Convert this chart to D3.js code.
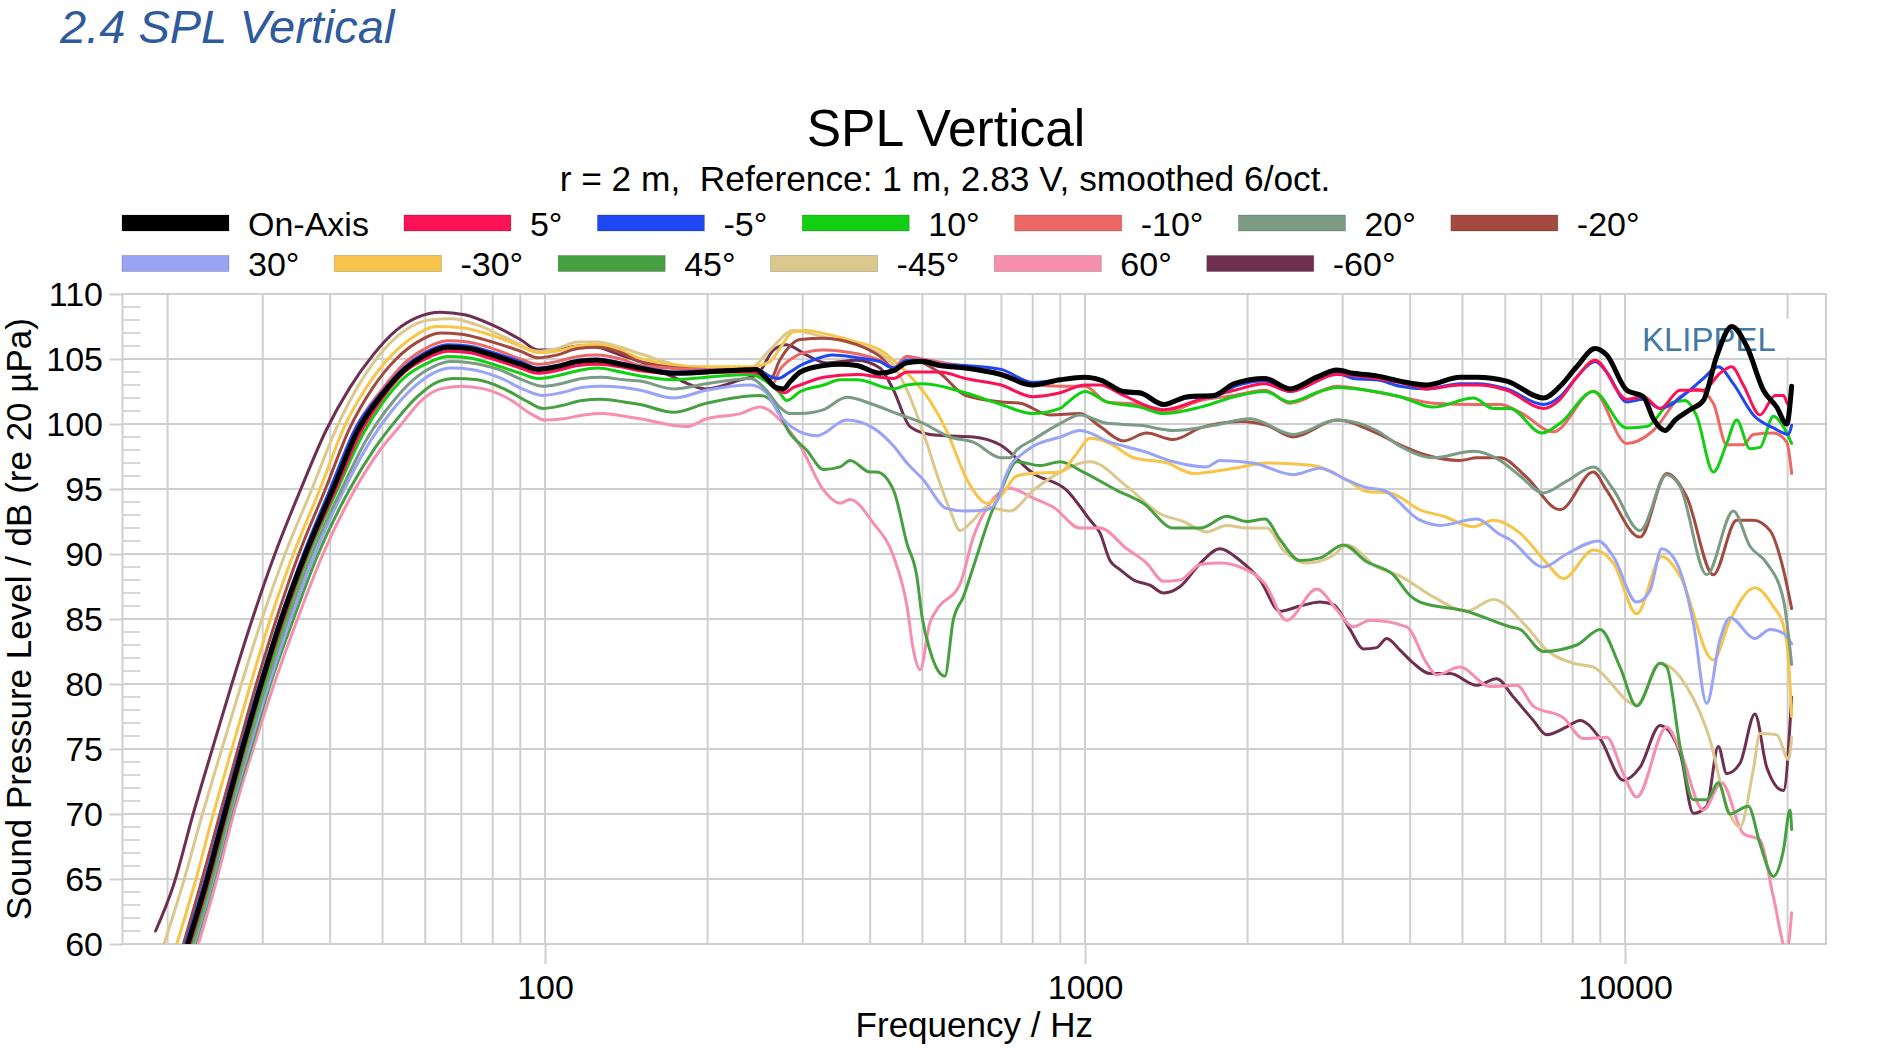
<!DOCTYPE html>
<html><head><meta charset="utf-8">
<script src="https://cdn.jsdelivr.net/npm/d3@7"></script>
<style>
html,body{margin:0;padding:0;background:#fff;}
svg{display:block;font-family:"Liberation Sans",Arial,Helvetica,sans-serif;}
</style></head><body>
<svg id="chart" width="1895" height="1054"></svg>
<script>
// ---------------- DATA (frequency Hz, SPL dB) ----------------
const seriesNames = ["On-Axis","5°","-5°","10°","-10°","20°","-20°","30°","-30°","45°","-45°","60°","-60°"];
const xTickLabels = [100, 1000, 10000];
const yTickLabels = [60, 65, 70, 75, 80, 85, 90, 95, 100, 105, 110];

const dOn = [[21.8,60],[23.5,64.5],[25.5,70],[27.5,75],[29.8,80],[32.5,85],[36,90],[40.5,95],[45,99.5],[50,102.3],[55,104.2],[60,105.3],[66,105.9],[72,105.8],[80,105.3],[90,104.6],[97,104.2],[105,104.4],[115,104.8],[125,104.9],[138,104.6],[150,104.3],[173,103.9],[199,104.0],[230,104.15],[246,104.2],[257,103.5],[268,102.8],[276,102.7],[285,103.3],[297,104.0],[328,104.5],[352,104.6],[378,104.5],[417,103.9],[442,104.1],[468,104.7],[499,104.8],[539,104.5],[600,104.3],[699,103.8],[800,103.0],[899,103.4],[1000,103.6],[1066,103.4],[1178,102.5],[1264,102.4],[1398,101.5],[1548,102.1],[1733,102.2],[1891,103.1],[2154,103.5],[2396,102.7],[2686,103.6],[2926,104.15],[3137,103.9],[3467,103.7],[3831,103.3],[4292,103.0],[4947,103.6],[5313,103.6],[6038,103.3],[7060,102.0],[7580,102.9],[8137,104.4],[8800,105.8],[9248,105.3],[10072,102.6],[10814,102.1],[11284,100.4],[11860,99.5],[12378,100.3],[13193,101.1],[13965,101.8],[14780,105.2],[15756,107.5],[16795,106.0],[18040,102.6],[19096,101.3],[19930,100.0],[20350,102.9]];
const dP5 = [[22.0,60],[23.7,64.5],[25.7,70],[27.7,75],[30,80],[32.8,85],[36.3,90],[41,95],[45.5,99.3],[50,102.0],[55,104.0],[60,105.0],[66,105.6],[72,105.5],[80,105.0],[90,104.3],[97,103.9],[105,104.1],[115,104.5],[125,104.6],[138,104.4],[150,104.1],[173,103.9],[199,104.0],[240,104.0],[257,103.6],[265,102.9],[272,102.5],[278,102.4],[288,102.8],[297,103.0],[328,103.6],[378,103.8],[417,103.6],[442,103.5],[468,104.0],[539,104.0],[600,103.5],[699,103.0],[800,102.1],[899,102.4],[1000,103.0],[1066,103.0],[1178,102.2],[1398,101.1],[1636,101.9],[1891,102.6],[2154,103.1],[2396,102.5],[2926,103.8],[3467,103.5],[3999,103.0],[4292,102.7],[4947,103.0],[5313,103.0],[6038,102.6],[7060,101.2],[7580,101.9],[8137,103.6],[8800,104.9],[10072,101.9],[10814,102.1],[11610,101.2],[12645,102.6],[13965,102.6],[14991,103.9],[15756,104.4],[16557,103.0],[17783,100.7],[18960,102.2],[19645,102.2],[20070,101.5],[20350,102.1]];
const dM5 = [[21.6,60],[23.3,64.5],[25.3,70],[27.3,75],[29.6,80],[32.3,85],[35.7,90],[40,95],[44.5,99.6],[50,102.5],[55,104.4],[60,105.5],[66,106.1],[72,106.0],[80,105.5],[90,104.8],[97,104.3],[105,104.5],[115,104.9],[125,105.0],[138,104.7],[150,104.4],[173,104.0],[199,104.1],[230,104.2],[250,104.1],[260,103.7],[270,103.5],[284,104.0],[297,104.5],[318,105.0],[340,105.3],[378,105.1],[417,104.8],[442,104.3],[468,104.9],[499,104.9],[539,104.6],[600,104.5],[699,104.2],[800,103.2],[899,103.4],[1000,103.6],[1066,103.4],[1178,102.4],[1264,102.3],[1398,101.5],[1548,102.0],[1733,102.1],[1891,102.9],[2154,103.3],[2396,102.5],[2686,103.3],[2926,103.9],[3137,103.5],[3467,103.4],[3831,102.9],[4292,102.7],[4947,103.1],[5313,103.1],[6038,102.7],[7060,101.5],[7580,102.1],[8137,103.6],[8800,104.8],[9248,104.0],[10072,101.7],[10814,101.9],[11610,101.2],[13006,102.4],[13965,103.5],[14885,104.4],[15868,103.1],[17280,100.7],[18827,99.7],[20070,99.2],[20350,99.9]];
const dP10 = [[22.1,60],[23.8,64.5],[25.8,70],[27.8,75],[30.2,80],[33,85],[36.5,90],[41.3,95],[46,99.2],[50,101.6],[55,103.6],[60,104.6],[66,105.2],[72,105.1],[80,104.6],[90,103.9],[97,103.5],[105,103.7],[115,104.1],[125,104.3],[138,104.0],[150,103.7],[173,103.4],[199,103.6],[240,103.8],[262,103.0],[272,102.4],[280,101.8],[297,102.5],[328,103.0],[352,103.4],[378,103.4],[442,102.7],[468,103.0],[502,103.1],[600,102.4],[699,101.5],[800,100.8],[899,101.2],[925,101.6],[1000,102.5],[1097,101.7],[1264,101.3],[1398,100.8],[1636,101.3],[1891,102.1],[2154,102.5],[2396,101.7],[2724,102.5],[2926,102.8],[3324,102.6],[3831,102.1],[4417,101.3],[5238,102.0],[5704,101.2],[6124,101.2],[7012,99.3],[7580,100.05],[8738,102.5],[10072,99.7],[10969,99.8],[12116,101.6],[12915,101.8],[13573,100.6],[14572,96.3],[15424,98.5],[16096,100.3],[17034,98.1],[17783,98.2],[18827,100.6],[19645,99.8],[20350,98.5]];
const dM10 = [[21.8,60],[23.4,64.5],[25.4,70],[27.4,75],[29.7,80],[32.4,85],[35.8,90],[40.2,95],[44.6,99.7],[50,102.7],[55,104.7],[60,105.8],[66,106.4],[72,106.3],[80,105.8],[90,105.0],[97,104.6],[105,104.8],[115,105.2],[125,105.3],[138,105.0],[150,104.5],[199,104.2],[240,104.2],[257,103.6],[264,103.1],[272,104.15],[288,105.1],[297,105.4],[328,105.7],[378,105.4],[417,104.9],[442,104.3],[468,105.2],[500,105.0],[600,104.4],[699,103.9],[800,103.1],[899,102.9],[1000,102.9],[1097,101.7],[1264,101.5],[1398,100.9],[1636,101.8],[1891,102.2],[2154,102.6],[2396,101.6],[2926,102.9],[3324,102.6],[3831,102.1],[4417,101.6],[5238,101.5],[5868,101.5],[6392,100.9],[7367,99.4],[8738,102.5],[10072,98.5],[11284,99.5],[12645,102.1],[13573,102.7],[14572,101.6],[15424,98.4],[16557,98.4],[17280,99.2],[18827,99.3],[19930,98.6],[20350,96.2]];
const dP20 = [[22.3,60],[24,64.5],[26,70],[28.1,75],[30.5,80],[33.4,85],[37,90],[42,95],[47,99],[52,101.6],[57,103.4],[62,104.4],[67,104.8],[73,104.7],[82,104.2],[92,103.3],[99,102.9],[107,103.1],[117,103.5],[127,103.6],[140,103.4],[150,103.3],[173,102.7],[199,103.1],[240,103.5],[257,102.6],[272,101.3],[284,100.8],[297,100.8],[328,101.1],[362,102.05],[405,101.5],[442,100.9],[502,100.05],[562,99.0],[621,98.6],[699,97.4],[726,97.4],[747,98.0],[802,98.8],[900,100.05],[979,100.7],[1097,100.05],[1264,99.9],[1458,99.5],[1733,99.9],[2021,100.4],[2431,99.2],[2926,100.3],[3467,99.5],[3831,98.3],[4417,97.4],[5238,97.9],[5868,97.2],[6392,96.0],[7060,94.7],[7800,95.6],[8738,96.7],[9500,95.0],[10662,91.8],[11945,96.1],[12645,95.2],[14165,88.4],[15868,93.3],[17034,90.6],[18296,89.3],[19645,86.5],[20350,81.5]];
const dM20 = [[21.4,60],[23,64.5],[25,70],[27,75],[29.2,80],[31.8,85],[35,90],[39.2,95],[43.5,99.7],[48,102.8],[53,105.0],[58,106.3],[64,107.0],[70,106.9],[80,106.3],[90,105.6],[97,105.1],[105,105.3],[115,105.8],[125,105.9],[138,105.5],[150,104.8],[199,104.2],[240,104.2],[261,103.4],[272,104.9],[297,106.5],[328,106.6],[378,106.1],[417,105.2],[442,104.3],[468,105.2],[502,104.7],[539,103.9],[600,102.2],[699,101.7],[758,101.6],[861,100.7],[979,100.8],[1066,99.8],[1178,98.7],[1300,99.3],[1458,98.8],[1636,99.7],[1936,100.2],[2170,99.9],[2431,99.0],[2926,100.3],[3467,99.3],[3831,98.4],[4292,97.6],[4947,97.2],[5313,97.4],[5868,97.4],[6574,95.9],[7580,93.4],[8738,96.3],[9248,94.9],[10662,91.3],[11945,96.2],[13006,94.4],[14572,88.4],[16096,92.6],[17280,92.6],[18560,91.8],[19645,88.8],[20350,85.8]];
const dP30 = [[22.4,60],[24.1,64.5],[26.1,70],[28.3,75],[30.8,80],[33.8,85],[37.5,90],[42.5,95],[47.5,98.7],[52,101],[57,102.8],[62,103.9],[67,104.3],[73,104.2],[82,103.6],[92,102.6],[99,102.2],[107,102.4],[117,102.8],[127,102.9],[140,102.8],[150,102.6],[173,102.0],[199,102.6],[240,103.0],[257,102.4],[272,100.7],[288,99.7],[319,99.1],[362,100.3],[405,99.7],[442,98.3],[468,97.0],[502,95.7],[554,93.5],[600,93.3],[658,93.4],[690,94.2],[710,95.8],[730,96.9],[760,97.6],[802,98.3],[900,99.0],[979,99.5],[1112,98.6],[1282,97.9],[1458,97.1],[1680,96.7],[1778,97.2],[2050,97.0],[2431,96.1],[2724,96.6],[3052,95.7],[3324,95.1],[3568,94.9],[4172,92.6],[4545,92.2],[5313,92.7],[5868,91.5],[6124,91.1],[7060,89.0],[7799,90.0],[8926,91.0],[9515,89.8],[10511,86.3],[11125,87.2],[11693,90.4],[12467,89.3],[13382,84.7],[14165,78.5],[14991,83.4],[15644,85.1],[17400,83.5],[18560,84.2],[19645,83.9],[20350,83.1]];
const dM30 = [[20.8,60],[22.4,64.5],[24.3,70],[26.3,75],[28.5,80],[31,85],[34.2,90],[38.3,95],[42.5,99.8],[47,103],[52,105.3],[57,106.7],[63,107.5],[70,107.4],[80,106.8],[90,106.0],[97,105.5],[105,105.6],[115,106.0],[125,106.1],[138,105.7],[150,105.05],[199,104.4],[240,104.4],[261,104.8],[272,105.8],[288,107.1],[305,107.2],[328,106.97],[378,106.3],[417,105.7],[442,104.9],[481,103.4],[516,101.8],[554,99.5],[600,96.0],[621,94.9],[658,93.9],[699,94.5],[747,96.0],[800,96.2],[900,96.3],[960,97.6],[1022,98.9],[1112,98.5],[1230,97.4],[1419,97.0],[1587,96.2],[1891,96.6],[2170,97.0],[2648,96.8],[3052,95.7],[3324,94.8],[3671,94.7],[4172,93.4],[4610,92.9],[5238,92.1],[5704,92.6],[6392,91.6],[7161,89.3],[7688,88.1],[8738,90.3],[9515,89.3],[10511,85.4],[11693,89.8],[12645,88.3],[14572,81.85],[15644,84.9],[17400,87.4],[18827,85.95],[19645,84.5],[20070,82.0],[20350,77.5]];
const dP45 = [[22.5,60],[24.2,64.5],[26.2,70],[28.5,75],[31,80],[34.2,85],[38,90],[43.5,95],[48.5,98.2],[53,100.3],[58,102.1],[63,103.2],[68,103.5],[75,103.4],[84,102.7],[93,101.7],[99,101.2],[107,101.4],[117,101.8],[127,101.9],[140,101.7],[150,101.5],[173,100.9],[199,101.6],[250,102.2],[265,101.6],[284,99.3],[305,98.0],[328,96.5],[352,96.7],[367,97.2],[400,96.3],[411,96.3],[442,94.9],[468,90.8],[488,88.3],[499,85.2],[516,82.6],[539,80.8],[550,80.6],[570,84.9],[595,86.7],[621,89.0],[667,92.9],[699,94.9],[747,97.1],[825,96.8],[900,97.1],[993,96.3],[1145,94.9],[1282,93.9],[1458,92.0],[1636,92.0],[1829,92.9],[1993,92.5],[2154,92.7],[2297,91.1],[2504,89.5],[2724,89.7],[3009,90.7],[3324,89.4],[3724,88.4],[3999,86.8],[4172,86.3],[5090,85.6],[6124,84.4],[6392,84.2],[7060,82.5],[8137,83.0],[8990,84.2],[9789,81.3],[10511,78.3],[11610,81.6],[11945,81.3],[12645,75.2],[13382,71.1],[14165,71.1],[14885,72.4],[15644,70.0],[16914,70.6],[17783,67.7],[18827,65.2],[19645,67.2],[20210,70.3],[20350,68.8]];
const dM45 = [[19.7,60],[21.3,64.5],[23.2,70],[25.2,75],[27.4,80],[29.9,85],[33,90],[37,95],[41.2,99.8],[45.5,103.2],[50,105.6],[55,107.2],[61,108.0],[67,108.1],[75,107.6],[85,106.6],[97,105.6],[105,105.8],[115,106.3],[125,106.3],[138,105.9],[150,105.4],[199,104.2],[240,104.3],[261,105.7],[288,107.2],[328,106.7],[378,106.1],[417,105.4],[442,104.5],[468,102.6],[502,99.3],[539,95.4],[562,93.4],[587,91.8],[621,92.6],[658,93.6],[699,93.4],[726,93.3],[802,94.9],[900,96.3],[1022,97.1],[1195,95.2],[1377,93.1],[1521,92.5],[1680,91.7],[1829,92.2],[1993,92.0],[2170,92.0],[2330,90.3],[2574,89.3],[2884,89.9],[3052,90.7],[3467,89.0],[3831,88.3],[4417,86.7],[5090,85.6],[5704,86.5],[6574,84.4],[7161,82.6],[8024,81.6],[8738,81.3],[10511,78.4],[11610,81.6],[13006,79.8],[14366,75.7],[15424,70.6],[16326,69.0],[17280,73.4],[17783,76.2],[19096,76.1],[20070,74.2],[20350,75.9]];
const dP60 = [[22.8,60],[24.5,64.5],[26.5,70],[28.8,75],[31.5,80],[34.8,85],[38.8,90],[44.5,95],[49.5,98.0],[54,99.9],[59,101.8],[64,102.7],[70,102.9],[77,102.7],[86,101.9],[94,100.8],[100,100.3],[108,100.4],[118,100.7],[128,100.8],[140,100.6],[150,100.4],[183,99.8],[199,100.4],[230,100.8],[250,101.3],[276,100.05],[297,98.3],[328,94.9],[352,93.9],[367,94.2],[405,92.4],[442,89.8],[468,86.0],[481,82.6],[495,81.1],[516,84.7],[531,85.7],[587,87.7],[621,91.3],[667,93.9],[699,94.8],[726,95.05],[802,94.3],[874,93.6],[979,92.0],[1066,92.0],[1195,90.4],[1300,89.3],[1398,87.9],[1500,88.0],[1636,89.2],[1778,89.3],[1936,89.0],[2154,87.7],[2363,84.9],[2686,87.3],[2926,85.7],[3137,84.4],[3371,84.9],[3942,84.4],[4292,81.6],[4479,80.7],[4947,81.3],[5623,79.8],[6302,79.9],[6764,78.3],[7688,77.4],[8373,75.8],[9248,75.9],[9929,73.1],[10511,71.3],[11945,76.7],[12645,74.9],[13965,70.3],[15097,72.4],[16557,68.5],[17783,68.0],[18827,63.6],[19930,59.5],[20350,62.4]];
const dM60 = [[19.0,61],[20.5,64.5],[22.3,70],[24.2,75],[26.3,80],[28.7,85],[31.6,90],[35.3,95],[39.3,99.5],[43.5,102.8],[48,105.3],[53,107.2],[58,108.2],[64,108.6],[71,108.4],[80,107.6],[90,106.5],[97,105.7],[105,105.7],[115,106.0],[125,105.9],[138,105.3],[150,104.8],[173,103.6],[199,102.7],[230,103.4],[247,103.8],[265,105.7],[280,106.1],[305,105.3],[332,104.7],[378,104.9],[417,104.3],[442,102.6],[474,99.8],[516,99.2],[554,99.1],[621,99.0],[696,98.4],[802,96.2],[925,94.9],[1022,92.6],[1066,91.6],[1112,89.5],[1161,88.8],[1230,88.0],[1319,87.6],[1398,87.0],[1500,87.5],[1636,89.3],[1778,90.4],[1936,89.5],[2109,88.0],[2297,85.6],[2504,86.0],[2724,86.3],[2884,86.1],[3095,84.2],[3277,82.7],[3467,82.8],[3620,83.5],[3831,82.6],[4055,81.6],[4354,80.8],[4743,80.8],[5313,79.9],[5785,80.4],[6213,79.0],[6764,77.2],[7161,76.1],[7799,76.7],[8254,77.2],[8990,75.8],[9929,72.6],[10662,73.6],[11610,76.8],[12645,74.7],[13382,70.05],[14165,70.6],[14885,75.2],[15424,73.1],[16326,73.9],[17400,77.7],[18296,73.6],[19645,71.8],[20350,79.0]];

const seriesData = [dOn, dP5, dM5, dP10, dM10, dP20, dM20, dP30, dM30, dP45, dM45, dP60, dM60];

// ---------------- STYLE / LAYOUT ----------------
const seriesColors = ["#000000","#fb1256","#1f48f4","#12cf12","#ec6864","#7b9b84","#a24a3f","#9aa4f4","#f7c54a","#46a040","#dcc78d","#f68eb0","#6e2f50"];
const seriesWidths = [5,3,3,3,3,3,3,3,3,3,3,3,3];
const W = 1895, H = 1054;
const P = {left:122.5, right:1826, top:294, bottom:944};
const gridColor = "#cfcfcf";
const FONT = "'Liberation Sans', Arial, sans-serif";

const svg = d3.select("#chart");
svg.append("rect").attr("width",W).attr("height",H).attr("fill","#fff");

const x = d3.scaleLog().domain([16.5, 23560]).range([P.left, P.right]);
const y = d3.scaleLinear().domain([60, 110]).range([P.bottom, P.top]);

// headings
svg.append("text").attr("x",60).attr("y",43).attr("font-size",47).attr("font-style","italic")
  .attr("fill","#2f5a9c").text("2.4 SPL Vertical");
svg.append("text").attr("x",946).attr("y",146).attr("text-anchor","middle").attr("font-size",51.5)
  .attr("fill","#000").text("SPL Vertical");
svg.append("text").attr("x",945).attr("y",191).attr("text-anchor","middle").attr("font-size",35.3)
  .style("white-space","pre").attr("fill","#000").text("r = 2 m,  Reference: 1 m, 2.83 V, smoothed 6/oct.");

// grid
const g = svg.append("g");
const xGrid = x.ticks().filter(v => v >= 20 && v <= 20000);
g.selectAll("line.vg").data(xGrid).join("line").attr("class","vg")
  .attr("x1",d=>x(d)).attr("x2",d=>x(d)).attr("y1",P.top).attr("y2",P.bottom)
  .attr("stroke",gridColor).attr("stroke-width",2);
g.selectAll("line.hg").data(yTickLabels).join("line").attr("class","hg")
  .attr("x1",P.left).attr("x2",P.right).attr("y1",d=>y(d)).attr("y2",d=>y(d))
  .attr("stroke",gridColor).attr("stroke-width",2);
const yMinor = d3.range(61, 110).filter(v => v % 5 !== 0);
g.selectAll("line.mt").data(yMinor).join("line").attr("class","mt")
  .attr("x1",P.left).attr("x2",P.left+18).attr("y1",d=>y(d)).attr("y2",d=>y(d))
  .attr("stroke",gridColor).attr("stroke-width",1.6);
g.append("rect").attr("x",P.left).attr("y",P.top).attr("width",P.right-P.left).attr("height",P.bottom-P.top)
  .attr("fill","none").attr("stroke",gridColor).attr("stroke-width",2);

// axes
const xAxis = svg.append("g").attr("transform",`translate(0,${P.bottom})`)
  .call(d3.axisBottom(x).tickValues(xTickLabels).tickFormat(d3.format("d")).tickSize(20).tickPadding(11));
const yAxis = svg.append("g").attr("transform",`translate(${P.left},0)`)
  .call(d3.axisLeft(y).tickValues(yTickLabels).tickFormat(d3.format("d")).tickSize(13).tickPadding(6.5));
[xAxis, yAxis].forEach(a => {
  a.select(".domain").remove();
  a.selectAll(".tick line").attr("stroke",gridColor).attr("stroke-width",2);
  a.selectAll(".tick text").attr("font-family",FONT).attr("font-size",34).attr("fill","#000");
});
yAxis.selectAll(".tick text").attr("dy","0.35em");

// axis titles
svg.append("text").attr("x",(P.left+P.right)/2).attr("y",1037).attr("text-anchor","middle")
  .attr("font-size",35).text("Frequency / Hz");
svg.append("text").attr("transform",`translate(31,${(P.top+P.bottom)/2}) rotate(-90)`)
  .attr("text-anchor","middle").attr("font-size",35).text("Sound Pressure Level / dB (re 20 µPa)");

// watermark
svg.append("rect").attr("x",1627).attr("y",319).attr("width",166).attr("height",38).attr("fill","#fff");
svg.append("text").attr("x",1642).attr("y",351).attr("font-size",33).attr("fill","#4479a3").text("KLIPPEL");

// curves
svg.append("clipPath").attr("id","pc").append("rect")
  .attr("x",P.left).attr("y",P.top).attr("width",P.right-P.left).attr("height",P.bottom-P.top);
const line = d3.line().x(d=>x(d[0])).y(d=>y(d[1])).curve(d3.curveMonotoneX);
const cg = svg.append("g").attr("clip-path","url(#pc)");
const order = d3.range(seriesNames.length).reverse();
cg.selectAll("path").data(order).join("path")
  .attr("d", i => line(seriesData[i]))
  .attr("fill","none").attr("stroke", i => seriesColors[i]).attr("stroke-width", i => seriesWidths[i])
  .attr("stroke-linejoin","round").attr("stroke-linecap","round");

// legend
const leg = svg.append("g").attr("font-size",34);
const rows = [[0,1,2,3,4,5,6],[7,8,9,10,11,12]];
const rowY = [223, 263.5];
rows.forEach((row, r) => {
  let cx = 122;
  row.forEach(i => {
    leg.append("rect").attr("x",cx).attr("y",rowY[r]-8).attr("width",107).attr("height",16)
      .attr("fill",seriesColors[i]).attr("stroke","rgba(0,0,0,0.18)").attr("stroke-width",1);
    const t = leg.append("text").attr("x",cx+126).attr("y",rowY[r]+12.5).attr("fill","#000").text(seriesNames[i]);
    cx = cx + 126 + t.node().getComputedTextLength() + 35;
  });
});
</script>
</body></html>
